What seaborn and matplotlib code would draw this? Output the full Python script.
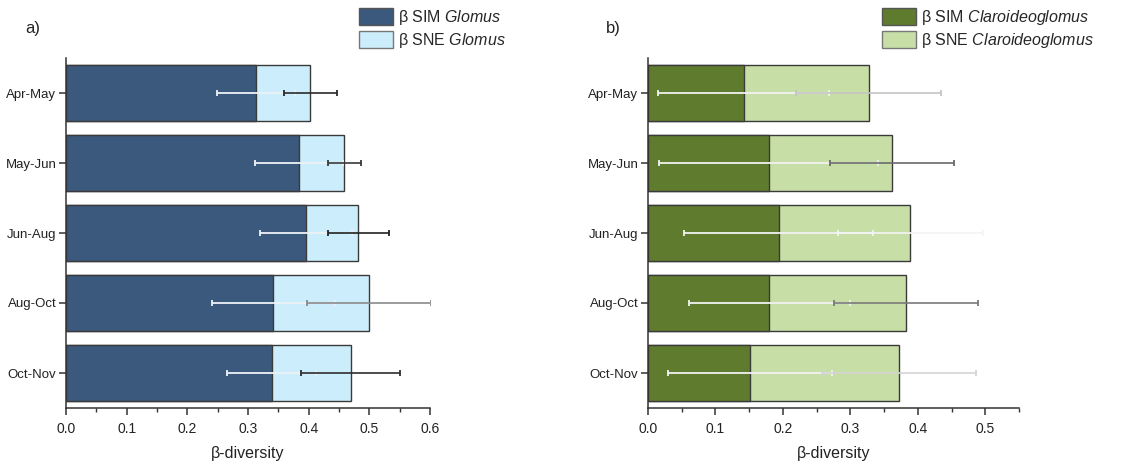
import numpy as np
import pandas as pd
import matplotlib
matplotlib.use("Agg")
import matplotlib.pyplot as plt
import seaborn as sns
from matplotlib.patches import Patch
from matplotlib.ticker import MultipleLocator

# ---------------- data ----------------
periods = ["Apr-May", "May-Jun", "Jun-Aug", "Aug-Oct", "Oct-Nov"]

glomus_sim = [0.313, 0.384, 0.396, 0.342, 0.339]
glomus_sne = [0.090, 0.075, 0.086, 0.157, 0.130]
glomus_sim_err = [0.064, 0.073, 0.076, 0.101, 0.073]
glomus_sne_err = [0.043, 0.027, 0.050, 0.102, 0.081]

claro_sim = [0.142, 0.179, 0.194, 0.180, 0.151]
claro_sne = [0.185, 0.183, 0.195, 0.202, 0.221]
claro_sim_err = [0.127, 0.162, 0.140, 0.119, 0.122]
claro_sne_err = [0.107, 0.092, 0.108, 0.107, 0.114]

x_ticks_a = [0.0, 0.1, 0.2, 0.3, 0.4, 0.5, 0.6]
x_ticks_b = [0.0, 0.1, 0.2, 0.3, 0.4, 0.5]

# ---------------- style ----------------
sns.set_theme(style="ticks")
plt.rcParams["font.family"] = ["Liberation Sans", "DejaVu Sans"]
plt.rcParams["mathtext.fontset"] = "custom"
plt.rcParams["mathtext.it"] = "Liberation Sans:italic"
plt.rcParams["mathtext.rm"] = "Liberation Sans"

fig = plt.figure(figsize=(11.29, 4.70), dpi=100)
W, H = 1129, 470
ax_a = fig.add_axes([66 / W, 1 - 408 / H, (430 - 66) / W, 350 / H])
ax_b = fig.add_axes([648 / W, 1 - 408 / H, (1019 - 648) / W, 350 / H])

EDGE = "#3a3a3a"


def panel(ax, sim, sne, sim_err, sne_err, c_sim, c_sne, genus, xmax, xticks,
          sne_line_cols, sne_cap_cols, sim_err_col):
    sim = np.array(sim)
    total = sim + np.array(sne)
    df = pd.DataFrame({"period": periods, "sim": sim, "total": total})
    sns.barplot(data=df, y="period", x="total", color=c_sne, saturation=1,
                edgecolor=EDGE, linewidth=1.0, width=0.81, errorbar=None,
                orient="h", ax=ax)
    sns.barplot(data=df, y="period", x="sim", color=c_sim, saturation=1,
                edgecolor=EDGE, linewidth=1.0, width=0.81, errorbar=None,
                orient="h", ax=ax)
    pos = np.arange(len(periods))
    ax.errorbar(sim, pos, xerr=sim_err, fmt="none", ecolor=sim_err_col,
                elinewidth=1.3, capsize=2.3, capthick=1.3, zorder=5)
    for i in range(len(periods)):
        eb = ax.errorbar(total[i], pos[i], xerr=sne_err[i], fmt="none",
                         ecolor=sne_line_cols[i], elinewidth=1.2,
                         capsize=2.3, capthick=1.3, zorder=6)
        for cl in eb[1]:
            cl.set_color(sne_cap_cols[i])

    ax.set_xlim(0, xmax)
    ax.set_ylim(len(periods) - 0.5, -0.5)
    ax.set_xticks(xticks)
    ax.set_xticklabels([f"{t:.1f}" for t in xticks])
    ax.xaxis.set_minor_locator(MultipleLocator(0.05))
    ax.set_ylabel("")
    ax.set_xlabel("β-diversity", fontsize=11.5, color="#222222", labelpad=7)
    sns.despine(ax=ax)
    for s in ["left", "bottom"]:
        ax.spines[s].set_color("#333333")
        ax.spines[s].set_linewidth(1.1)
    ax.tick_params(axis="both", which="major", direction="out", length=5,
                   width=1.1, color="#333333", labelcolor="#222222")
    ax.tick_params(axis="x", which="major", pad=5, labelsize=10)
    ax.tick_params(axis="y", which="major", pad=2, labelsize=9.5)
    ax.tick_params(axis="x", which="minor", direction="out", length=3,
                   width=1.0, color="#333333")
    handles = [Patch(facecolor=c_sim, edgecolor="#555555", linewidth=1.0),
               Patch(facecolor=c_sne, edgecolor="#777777", linewidth=1.0)]
    labels = [f"β SIM $\\mathit{{{genus}}}$", f"β SNE $\\mathit{{{genus}}}$"]
    return handles, labels


h_a, l_a = panel(ax_a, glomus_sim, glomus_sne, glomus_sim_err, glomus_sne_err,
                 "#3b587d", "#ccedfb", "Glomus", 0.6, x_ticks_a,
                 ["#2a2a2a", "#3a3a3a", "#222222", "#8a8a8a", "#2e2e2e"],
                 ["#2a2a2a", "#2a2a2a", "#222222", "#8a8a8a", "#2e2e2e"],
                 "#eef2f6")
h_b, l_b = panel(ax_b, claro_sim, claro_sne, claro_sim_err, claro_sne_err,
                 "#5f7b2e", "#c8dea7", "Claroideoglomus", 0.55, x_ticks_b,
                 ["#c4c4c4", "#6a6a6a", "#f4f4f4", "#7a7a7a", "#d4d4d4"],
                 ["#8a8a8a", "#6a6a6a", "#777777", "#7a7a7a", "#bbbbbb"],
                 "#f2f2f2")

leg_kw = dict(frameon=False, fontsize=11.5, handlelength=2.1, handleheight=1.2,
              handletextpad=0.35, labelspacing=0.25, borderaxespad=0,
              borderpad=0, bbox_transform=fig.transFigure, loc="upper left")
ax_a.legend(h_a, l_a, bbox_to_anchor=(359 / W, 1 - 8 / H), **leg_kw)
ax_b.legend(h_b, l_b, bbox_to_anchor=(882 / W, 1 - 8 / H), **leg_kw)

fig.text(25 / W, 1 - 28 / H, "a)", fontsize=12, va="center", ha="left",
         color="#222222")
fig.text(606 / W, 1 - 28 / H, "b)", fontsize=12, va="center", ha="left",
         color="#222222")

fig.savefig("out.png", dpi=100, facecolor="white")
